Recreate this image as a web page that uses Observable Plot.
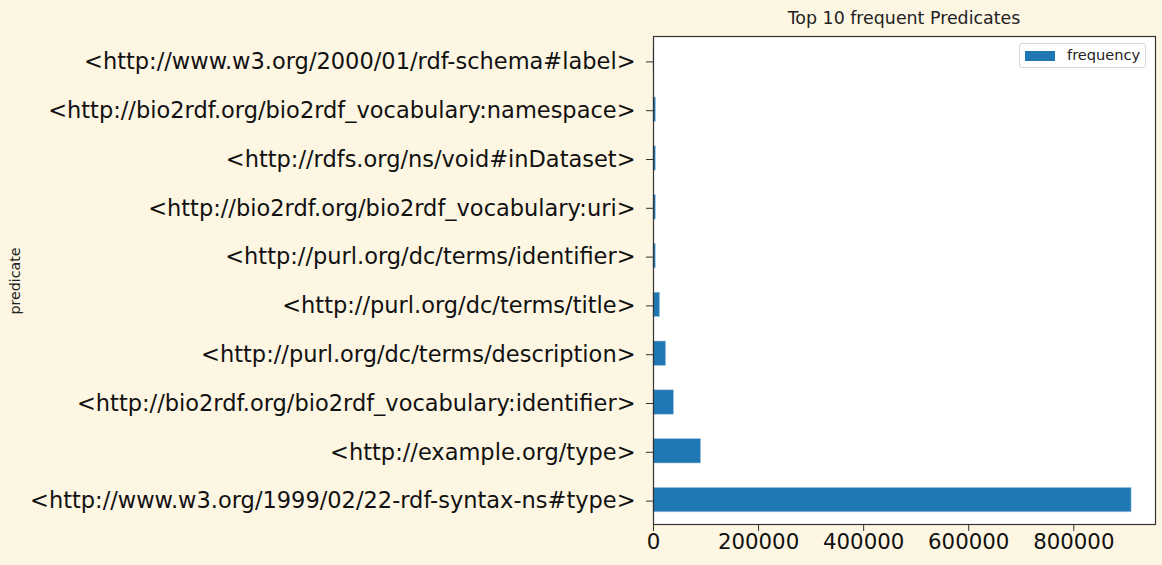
<!DOCTYPE html>
<html><head><meta charset="utf-8">
<script src="https://cdn.jsdelivr.net/npm/d3@7"></script>
<script src="https://cdn.jsdelivr.net/npm/@observablehq/plot@0.6"></script>
<style>
html,body{margin:0;padding:0;background:#fdf6e3;}
#wrap{position:relative;width:1162px;height:565px;font-family:"DejaVu Sans",sans-serif;color:#111;}
#title{height:30px;position:relative;}
#title span{position:absolute;left:653px;width:502px;top:8px;text-align:center;font-size:17.4px;line-height:20px;color:#222;}
#legend{position:absolute;left:1019px;top:43px;width:127px;height:25px;background:#fff;border:1px solid #d8d8d8;border-radius:3px;box-sizing:border-box;}
#legend .sw{position:absolute;left:5px;top:7px;width:30px;height:10px;background:#1f77b4;}
#legend .lb{position:absolute;left:47px;top:2px;font-size:14.6px;line-height:18px;color:#222;}
#ylab{position:absolute;left:15px;top:281px;transform:translate(-50%,-50%) rotate(-90deg);font-size:14.2px;color:#222;white-space:nowrap;}
svg{display:block;}
</style></head>
<body>
<div id="wrap">
  <div id="title"><span>Top 10 frequent Predicates</span></div>
  <div id="chart"></div>
  <div id="legend"><div class="sw"></div><div class="lb">frequency</div></div>
  <div id="ylab">predicate</div>
</div>
<script>
const predicates = [
  "<http://www.w3.org/2000/01/rdf-schema#label>",
  "<http://bio2rdf.org/bio2rdf_vocabulary:namespace>",
  "<http://rdfs.org/ns/void#inDataset>",
  "<http://bio2rdf.org/bio2rdf_vocabulary:uri>",
  "<http://purl.org/dc/terms/identifier>",
  "<http://purl.org/dc/terms/title>",
  "<http://purl.org/dc/terms/description>",
  "<http://bio2rdf.org/bio2rdf_vocabulary:identifier>",
  "<http://example.org/type>",
  "<http://www.w3.org/1999/02/22-rdf-syntax-ns#type>"
];
const frequency = [1500, 4600, 4500, 4500, 4300, 12500, 24000, 39000, 90500, 910000];
const xTicks = [0, 200000, 400000, 600000, 800000];

const data = predicates.map((p, i) => ({predicate: p, frequency: frequency[i]}));
const xMax = d3.max(frequency) * 1.05;

const chart = Plot.plot({
  width: 1162,
  height: 535,
  marginLeft: 653,
  marginRight: 7,
  marginTop: 6,
  marginBottom: 41,
  style: {background: "transparent", fontFamily: "DejaVu Sans, sans-serif", color: "#111"},
  x: {domain: [0, xMax], ticks: xTicks, tickFormat: d3.format("d")},
  y: {domain: predicates, paddingInner: 0.5, paddingOuter: 0.25, round: false},
  marks: [
    Plot.frame({fill: "white", stroke: null}),
    Plot.barX(data, {x: "frequency", y: "predicate", fill: "#1f77b4", stroke: "#a9c8e0", strokeWidth: 0.6}),
    Plot.axisX({ticks: xTicks, tickFormat: d3.format("d"), tickSize: 7, tickPadding: 2, fontSize: 21.3, label: null, stroke: "#333"}),
    Plot.axisY({tickSize: 7, tickPadding: 11, fontSize: 22.5, dy: 1, label: null, stroke: "#333"}),
    Plot.frame({stroke: "#333", strokeWidth: 1.2})
  ]
});
document.getElementById("chart").appendChild(chart);
</script>
</body></html>
